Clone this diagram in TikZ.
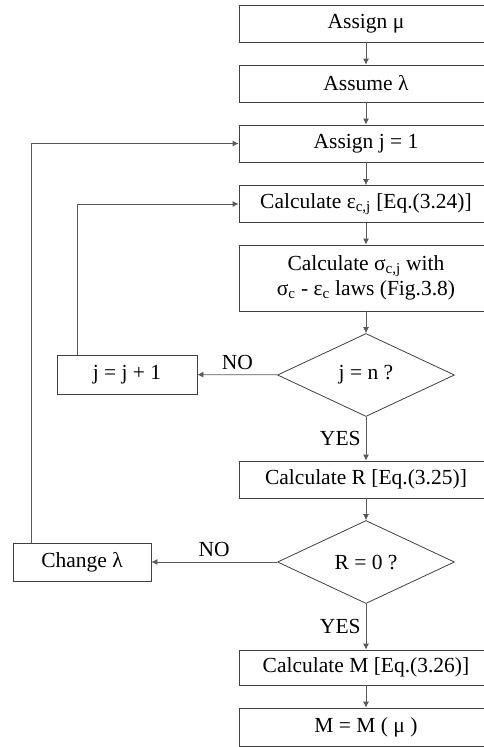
\documentclass[tikz,border=0pt]{standalone}
\usepackage{fontspec}
\setmainfont{Liberation Serif}
\usetikzlibrary{shapes.geometric,arrows.meta}
\begin{document}
\begin{tikzpicture}[x=1pt, y=-1pt, >={Latex[length=6pt,width=6pt]}]
            \useasboundingbox (0,0) rectangle (483,747);
            {
                \tikzset{every node/.style = {font=\fontsize{21.5}{25}\selectfont, inner sep=0pt}}
                \tikzset{box/.style = {draw=black!75, line width=0.8pt, minimum width=254pt, minimum height=37pt, align=center}}
                \tikzset{decision/.style = {shape=diamond, draw=black!75, line width=0.8pt, minimum width=177pt, minimum height=83pt}}

                \node[box] (mu) at (366, 23.5) {Assign μ};
                \node[box] (lam) at (366, 83.5) {Assume λ};
                \node[box] (j1) at (366, 143.5) {Assign j = 1};
                \node[box] (eps) at (366, 204) {Calculate ε\textsubscript{c,j} [Eq.(3.24)]};
                \node[box, minimum height=66pt] (sig) at (366, 278) {Calculate σ\textsubscript{c,j} with\\σ\textsubscript{c} - ε\textsubscript{c} laws (Fig.3.8)};
                \node[decision] (jn) at (366, 375) {j = n ?};
                \node[box, minimum width=140pt, minimum height=39pt] (jj) at (127, 374.5) {j = j + 1};
                \node[box] (R) at (366, 479.5) {Calculate R [Eq.(3.25)]};
                \node[decision] (R0) at (366, 562) {R = 0 ?};
                \node[box, minimum width=138pt, minimum height=38pt] (chl) at (82, 562) {Change λ};
                \node[box, minimum height=35pt] (M) at (366, 667.5) {Calculate M [Eq.(3.26)]};
                \node[box, minimum height=38pt] (Mmu) at (366, 727) {M = M ( μ )};
            }

            \tikzset{flow/.style = {draw=black!65, line width=0.8pt, ->}}
            \tikzset{answer/.style = {font=\fontsize{21.5}{25}\selectfont, inner sep=0pt}}

            \draw (mu) edge[flow] (lam);
            \draw (lam) edge[flow] (j1);
            \draw (j1) edge[flow] (eps);
            \draw (eps) edge[flow] (sig);
            \draw (sig) edge[flow] (jn);

            % loops back
            \draw (jn) edge[flow] node[answer, above, midway, yshift=5pt] {NO} (jj);
            \draw[flow] ([xshift=-50pt]jj.north) |- (eps.west);
            \draw (jn) edge[flow] node[answer, left, midway, xshift=-5pt] {YES} (R);

            \draw (R) edge[flow] (R0);
            \draw (R0) edge[flow] node[answer, above, midway, yshift=5pt] {NO} (chl);
            \draw[flow] ([xshift=-51pt]chl.north) |- (j1.west);
            \draw (R0) edge[flow] node[answer, left, midway, xshift=-5pt] {YES} (M);
            \draw (M) edge[flow] (Mmu);

        \end{tikzpicture}
\end{document}
